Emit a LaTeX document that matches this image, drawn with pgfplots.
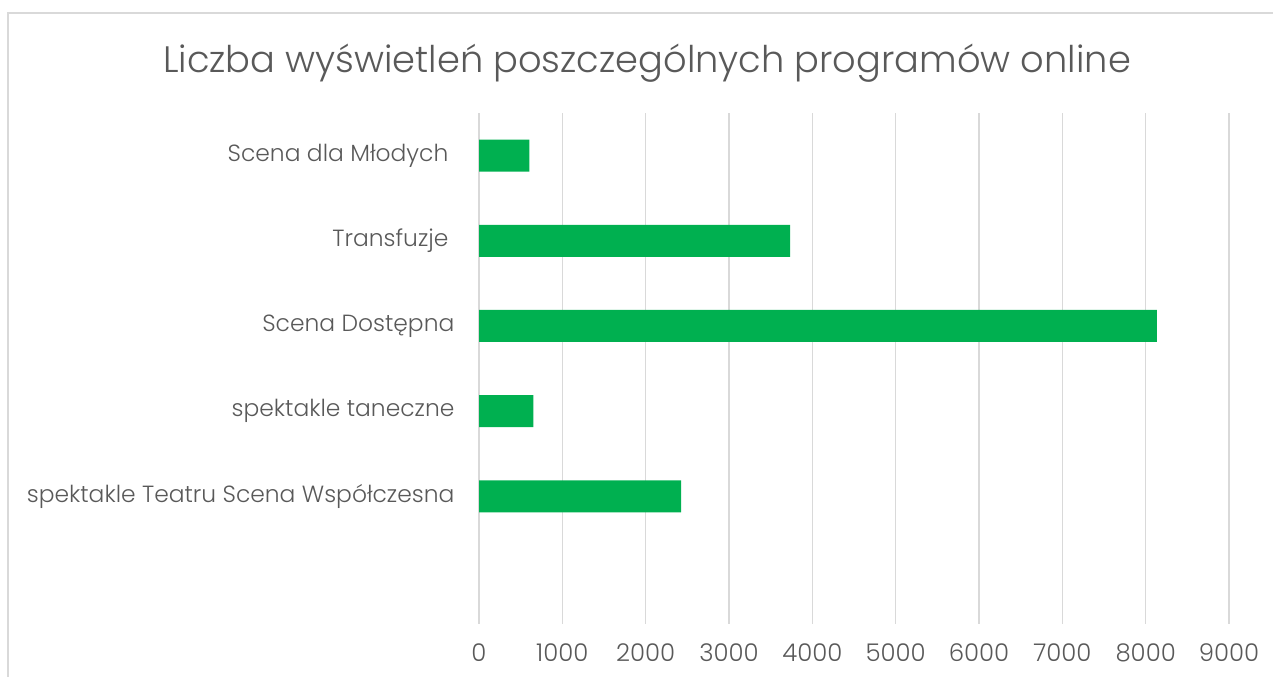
\documentclass[border=0pt]{standalone}
\usepackage{fontspec}
\setmainfont{Poppins Light}
\usepackage{pgfplots}
\pgfplotsset{compat=1.18}
\definecolor{barg}{RGB}{0,176,80}
\definecolor{txtg}{RGB}{89,89,89}
\definecolor{gridg}{RGB}{217,217,217}
\begin{document}
\begin{tikzpicture}[x=0.5pt,y=0.5pt]
\useasboundingbox (0,0) rectangle (1273,676);
\draw[gridg, line width=1pt] (8,-20) rectangle (1300,663);
\node[txtg, font=\fontsize{18.4}{22}\selectfont] at (647,613) {Liczba wyświetleń poszczególnych programów online};
\begin{axis}[
  at={(239.5pt,26pt)}, anchor=south west,
  xbar, scale only axis,
  width=375pt, height=255.5pt,
  xmin=0, xmax=9000, ymin=-0.5, ymax=5.5,
  y dir=reverse,
  ytick={0,1,2,3,4},
  yticklabels={Scena dla Młodych\kern3pt, Transfuzje\kern3pt, Scena Dostępna, spektakle taneczne, spektakle Teatru Scena Współczesna},
  xtick={0,1000,...,9000},
  xmajorgrids, ymajorgrids=false,
  major grid style={gridg, line width=0.8pt},
  axis line style={draw=none}, tick style={draw=none},
  bar width=16pt,
  tick label style={txtg},
  xticklabel style={font=\fontsize{12.2}{14}\selectfont, yshift=-6.5pt},
  yticklabel style={font=\fontsize{11.7}{14}\selectfont, xshift=-4.5pt},
  /pgf/number format/assume math mode=true,
  /pgf/number format/1000 sep={},
]
\addplot[fill=barg, draw=none] coordinates {(604,0) (3733,1) (8135,2) (652,3) (2425,4)};
\end{axis}
\end{tikzpicture}
\end{document}
